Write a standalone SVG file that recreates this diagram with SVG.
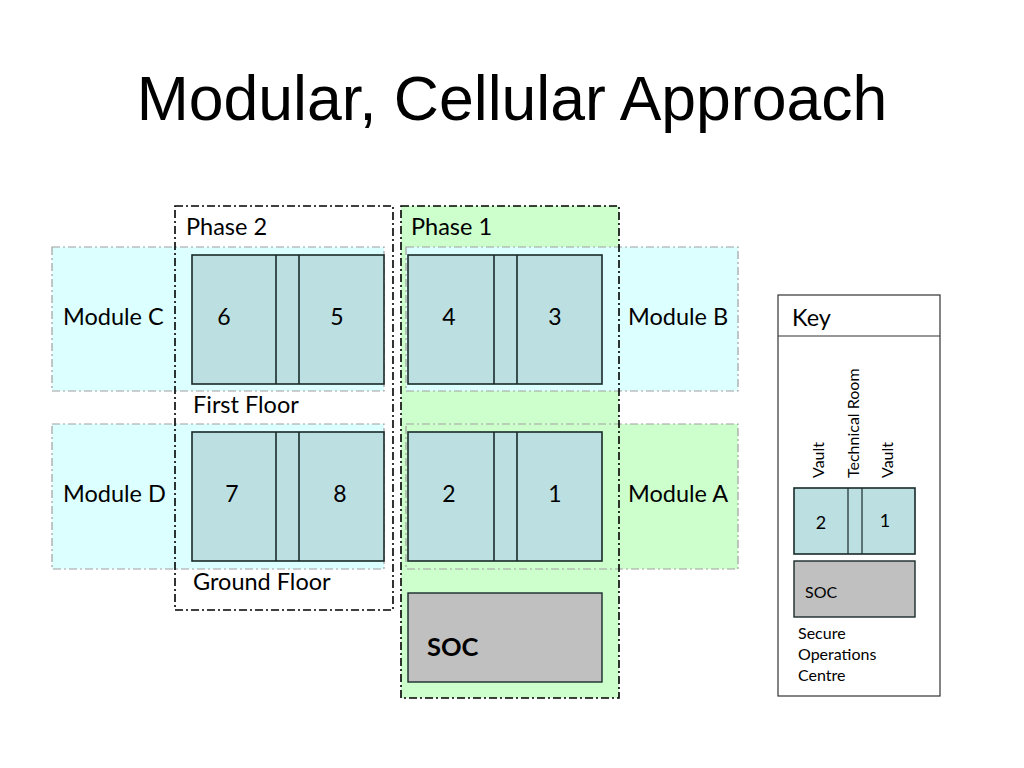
<svg xmlns="http://www.w3.org/2000/svg" width="1024" height="768" viewBox="0 0 1024 768">
<style>
.t{font-family:Lato,"Noto Sans","Liberation Sans",sans-serif;fill:#000}
.lbl{font-size:23.5px}
.num{font-size:23px;text-anchor:middle}
.small{font-size:16px}
.phase{fill:none;stroke:#000;stroke-width:1.6;stroke-dasharray:8 3 2 3}
.mod{stroke:#a0a0a0;stroke-width:1.2;stroke-dasharray:8 3 2 3}
.room{fill:#bcdfe1;stroke:#1a2a2a;stroke-width:1.6}
.soc{fill:#c0c0c0;stroke:#1a2a2a;stroke-width:1.4}
</style>
<rect width="1024" height="768" fill="#fff"/>
<text x="512" y="120" text-anchor="middle" style="font-family:'Liberation Sans',Arial,sans-serif;font-size:62.5px">Modular, Cellular Approach</text>

<g id="phase1-fill"><rect x="401" y="206" width="218" height="492" fill="#ccffcc"/></g>

<g id="module-c"><rect class="mod" x="52" y="247" width="332" height="144" fill="#dcffff"/><text class="t lbl" x="63" y="325">Module C</text></g>
<g id="module-b"><rect class="mod" x="406" y="247" width="332" height="144" fill="#dcffff"/><text class="t lbl" x="628" y="325">Module B</text></g>
<g id="module-d"><rect class="mod" x="52" y="424" width="332" height="145" fill="#dcffff"/><text class="t lbl" x="63" y="502">Module D</text></g>
<g id="module-a"><rect class="mod" x="406" y="424" width="332" height="145" fill="#ccffcc"/><text class="t lbl" x="628" y="502">Module A</text></g>

<g id="block-6-5">
<rect class="room" x="192" y="255" width="192" height="129"/>
<line x1="276" y1="255" x2="276" y2="384" stroke="#1a2a2a" stroke-width="1.6"/>
<line x1="299" y1="255" x2="299" y2="384" stroke="#1a2a2a" stroke-width="1.6"/>
<text class="t num" x="224" y="325">6</text><text class="t num" x="337" y="325">5</text>
</g>
<g id="block-4-3">
<rect class="room" x="408" y="255" width="194" height="129"/>
<line x1="494" y1="255" x2="494" y2="384" stroke="#1a2a2a" stroke-width="1.6"/>
<line x1="517" y1="255" x2="517" y2="384" stroke="#1a2a2a" stroke-width="1.6"/>
<text class="t num" x="449" y="325">4</text><text class="t num" x="555" y="325">3</text>
</g>
<g id="block-7-8">
<rect class="room" x="192" y="432" width="192" height="129"/>
<line x1="276" y1="432" x2="276" y2="561" stroke="#1a2a2a" stroke-width="1.6"/>
<line x1="299" y1="432" x2="299" y2="561" stroke="#1a2a2a" stroke-width="1.6"/>
<text class="t num" x="232" y="502">7</text><text class="t num" x="340" y="502">8</text>
</g>
<g id="block-2-1">
<rect class="room" x="408" y="432" width="194" height="129"/>
<line x1="494" y1="432" x2="494" y2="561" stroke="#1a2a2a" stroke-width="1.6"/>
<line x1="517" y1="432" x2="517" y2="561" stroke="#1a2a2a" stroke-width="1.6"/>
<text class="t num" x="449" y="502">2</text><text class="t num" x="555" y="502">1</text>
</g>
<g id="soc">
<rect class="soc" x="408" y="593" width="194" height="89"/>
<text class="t" x="427" y="656" style="font-size:25.5px;font-weight:bold">SOC</text>
</g>

<g id="phase-2"><rect class="phase" x="175" y="206" width="218" height="404"/><text class="t lbl" x="186" y="235">Phase 2</text>
<text class="t lbl" x="193" y="413">First Floor</text><text class="t lbl" x="193" y="590">Ground Floor</text></g>
<g id="phase-1"><rect class="phase" x="401" y="206" width="218" height="492"/><text class="t lbl" x="411" y="235">Phase 1</text></g>

<g id="key">
<rect x="778" y="295" width="162" height="401" fill="#fff" stroke="#333" stroke-width="1.2"/>
<line x1="778" y1="336" x2="940" y2="336" stroke="#333" stroke-width="1.2"/>
<text class="t lbl" x="792" y="326">Key</text>
<text class="t small" transform="translate(824,478) rotate(-90)">Vault</text>
<text class="t small" transform="translate(859,478) rotate(-90)">Technical Room</text>
<text class="t small" transform="translate(893,478) rotate(-90)">Vault</text>
<rect class="room" x="794" y="488" width="121" height="66" stroke-width="1.2"/>
<line x1="848" y1="488" x2="848" y2="554" stroke="#1a2a2a" stroke-width="1.2"/>
<line x1="862" y1="488" x2="862" y2="554" stroke="#1a2a2a" stroke-width="1.2"/>
<text class="t" x="821" y="529" text-anchor="middle" style="font-size:18px">2</text>
<text class="t" x="885" y="527" text-anchor="middle" style="font-size:18px">1</text>
<rect class="soc" x="794" y="561" width="121" height="56" stroke-width="1.2"/>
<text class="t small" x="805" y="598">SOC</text>
<text class="t small" x="798" y="639">Secure</text>
<text class="t small" x="798" y="660">Operations</text>
<text class="t small" x="798" y="681">Centre</text>
</g>
</svg>
